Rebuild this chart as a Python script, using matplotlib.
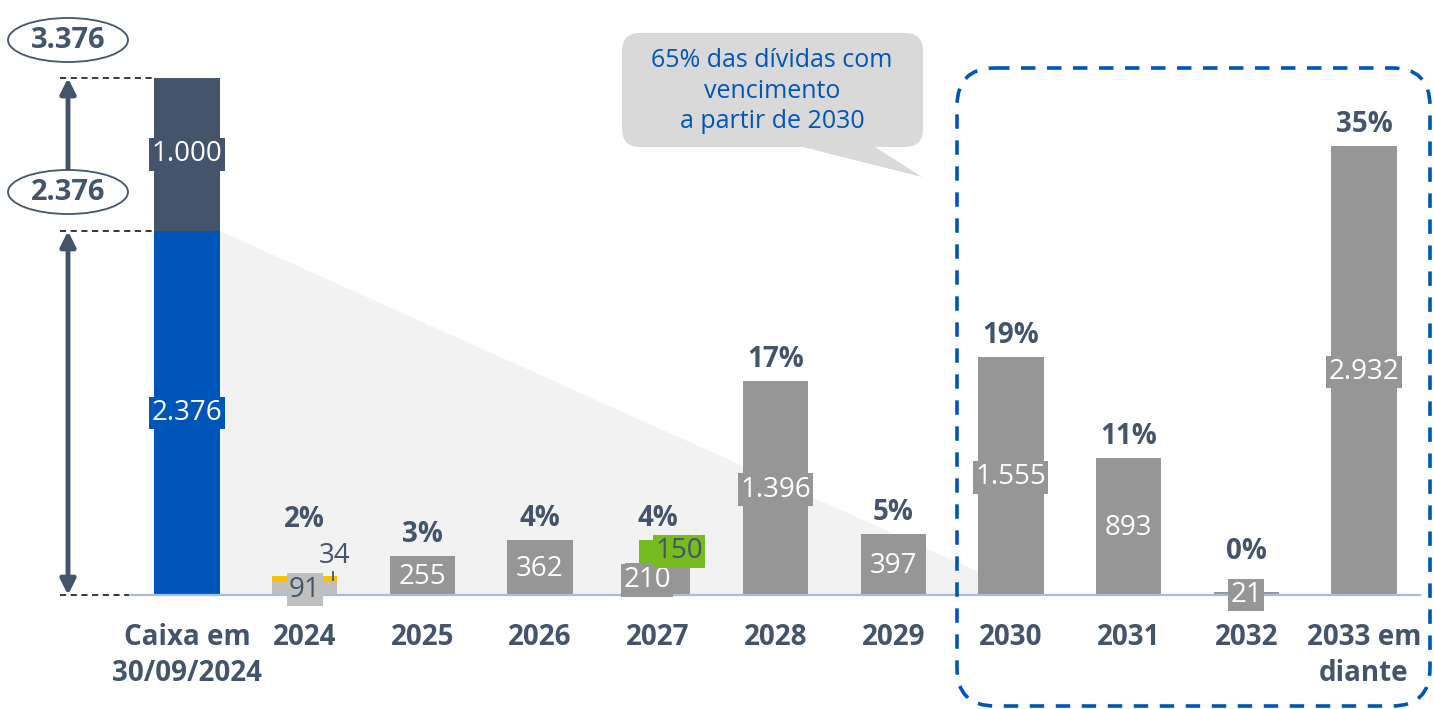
import matplotlib
matplotlib.use("Agg")
import matplotlib.pyplot as plt
import matplotlib.transforms as mtransforms
from matplotlib.patches import Ellipse, FancyBboxPatch, Polygon

plt.rcParams['font.family'] = ['Open Sans', 'DejaVu Sans']

# ---------------- DATA
categories = ['Caixa em\n30/09/2024', '2024', '2025', '2026', '2027', '2028',
              '2029', '2030', '2031', '2032', '2033 em\ndiante']
debt_main = [0, 91, 255, 362, 210, 1396, 397, 1555, 893, 21, 2932]
debt_main_labels = ['', '91', '255', '362', '210', '1.396', '397', '1.555', '893', '21', '2.932']
debt_extra = [0, 34, 0, 0, 150, 0, 0, 0, 0, 0, 0]     # yellow (2024) / green (2027)
debt_extra_labels = ['', '34', '', '', '150', '', '', '', '', '', '']
pct_labels = ['', '2%', '3%', '4%', '4%', '17%', '5%', '19%', '11%', '0%', '35%']
cash_values = [2376, 1000]
cash_labels = ['2.376', '1.000']
total_labels = ['3.376', '2.376']
callout_text = '65% das dívidas com\nvencimento\na partir de 2030'

DARK = '#44546A'
BLUE = '#0055B8'
GRAY = '#969696'
LIGHTGRAY = '#BFBFBF'
YELLOW = '#FFC000'
GREEN = '#77BC1F'

W, H = 1434, 709
fig = plt.figure(figsize=(W / 100, H / 100), dpi=100)
ax = fig.add_axes([0, 0, 1, 1])
ax.set_axis_off()

# axes scales: bar index on x, value on y (baseline at pixel row 595)
step = 117.7
ppu = 364 / 2376.0
ax.set_xlim(-187 / step, (W - 187) / step)
ax.set_ylim(-(H - 595) / ppu, 595 / ppu)

# pixel transform, origin top-left
T = mtransforms.Affine2D().scale(0.01, -0.01).translate(0, H / 100) + fig.dpi_scale_trans
TX = mtransforms.blended_transform_factory(ax.transData, T)

bw = 0.555
x = list(range(len(categories)))
VAL_FS = 20

# light gray wedge behind the bars
cash_total = cash_values[0]
ax.add_patch(Polygon([(bw / 2, 0), (bw / 2, cash_total), ((1030 - 187) / step, 0)],
                     closed=True, facecolor='#F2F2F2', edgecolor='none', zorder=0))

# cash bar
ax.bar(0, cash_values[0], bw, color=BLUE, zorder=2)
ax.bar(0, cash_values[1], bw, bottom=cash_values[0], color=DARK, zorder=2)
lbl_box = dict(boxstyle='square,pad=0.08', edgecolor='none')
ax.text(0, cash_values[0] / 2, cash_labels[0], color='white', fontsize=VAL_FS, ha='center', va='center',
        bbox=dict(lbl_box, facecolor=BLUE), zorder=5)
ax.text(0, cash_values[0] + cash_values[1] / 2, cash_labels[1], color='white', fontsize=VAL_FS,
        ha='center', va='center', bbox=dict(lbl_box, facecolor=DARK), zorder=5)

# debt bars
for i in x[1:]:
    main_col = LIGHTGRAY if categories[i] == '2024' else GRAY
    ax.bar(i, debt_main[i], bw, color=main_col, zorder=2)
    if debt_main[i]:
        txt_col = DARK if main_col == LIGHTGRAY else 'white'
        dx = -0.09 if debt_extra[i] and categories[i] == '2027' else 0
        ax.text(i + dx, debt_main[i] / 2 - 10, debt_main_labels[i], color=txt_col, fontsize=VAL_FS,
                ha='center', va='center', bbox=dict(lbl_box, facecolor=main_col), zorder=5)
    if debt_extra[i]:
        if categories[i] == '2024':
            ax.bar(i, debt_extra[i], bw, bottom=debt_main[i], color=YELLOW, zorder=1.9)
            ax.plot([i + 0.24, i + 0.24], [debt_main[i] + 10, debt_main[i] + 60], color=DARK, lw=1.3, zorder=4)
            ax.text(i + 0.25, debt_main[i] + debt_extra[i] + 130, debt_extra_labels[i], color=DARK,
                    fontsize=VAL_FS, ha='center', va='center', zorder=5)
        else:
            ax.bar(i + 0.12, debt_extra[i], bw, bottom=debt_main[i], color=GREEN, zorder=2)
            ax.text(i + 0.18, debt_main[i] + debt_extra[i] / 2, debt_extra_labels[i], color=DARK,
                    fontsize=VAL_FS, ha='center', va='center', bbox=dict(lbl_box, facecolor=GREEN), zorder=5)
    top = debt_main[i] + debt_extra[i]
    if categories[i] == '2024':
        top += 230
    elif top < 100:
        # tiny bar: keep the percent above the value box
        top += 125
    ax.annotate(pct_labels[i], (i, top), xytext=(0, 5), textcoords='offset points',
                ha='center', va='bottom', fontsize=20, fontweight='bold', color=DARK, zorder=5)

# baseline
ax.plot([130, 1420], [595, 595], color='#A9BCDB', lw=1.6, transform=T, zorder=3)

# category labels
for i, c in enumerate(categories):
    ax.text(i, 623, c, transform=TX, ha='center', va='top', fontsize=20, fontweight='bold',
            color=DARK, linespacing=1.3)

# left side: dashed guides, arrows, ellipses
for yy, x1 in [(78, 155), (231, 155), (595, 130)]:
    ax.plot([60, x1], [yy, yy], color='black', lw=1.1, ls=(0, (4, 3)), transform=T, zorder=1)
ax.annotate('', xy=(68, 78), xytext=(68, 175), xycoords=T, textcoords=T, zorder=3,
            arrowprops=dict(arrowstyle='-|>,head_width=0.45,head_length=0.9', color=DARK,
                            lw=3.5, shrinkA=0, shrinkB=0))
ax.annotate('', xy=(68, 231), xytext=(68, 595), xycoords=T, textcoords=T, zorder=3,
            arrowprops=dict(arrowstyle='<|-|>,head_width=0.45,head_length=0.9', color=DARK,
                            lw=3.5, shrinkA=0, shrinkB=0))
for yy, s in zip([40, 192], total_labels):
    ax.add_patch(Ellipse((68, yy), 120, 44, transform=T, facecolor='white', edgecolor=DARK, lw=1.3, zorder=4))
    ax.text(68, yy, s, transform=T, ha='center', va='center', fontsize=21, fontweight='bold',
            color=DARK, zorder=5)

# dashed rounded box around 2030+
ax.add_patch(FancyBboxPatch((957, 68), 473, 638, boxstyle='round,pad=0,rounding_size=38',
                            transform=T, facecolor='none', edgecolor=BLUE, lw=2.6,
                            ls=(0, (4, 3.2)), zorder=6, clip_on=False))

# callout
ax.add_patch(FancyBboxPatch((622, 33), 301, 114, boxstyle='round,pad=0,rounding_size=18',
                            transform=T, facecolor='#D9D9D9', edgecolor='none', zorder=6))
ax.add_patch(Polygon([(795, 145), (872, 145), (922, 177)], closed=True, transform=T,
                     facecolor='#D9D9D9', edgecolor='none', zorder=6))
ax.text(772, 91, callout_text, transform=T, ha='center', va='center', fontsize=18,
        color=BLUE, linespacing=1.3, zorder=7)

fig.savefig('out.png', dpi=100)
